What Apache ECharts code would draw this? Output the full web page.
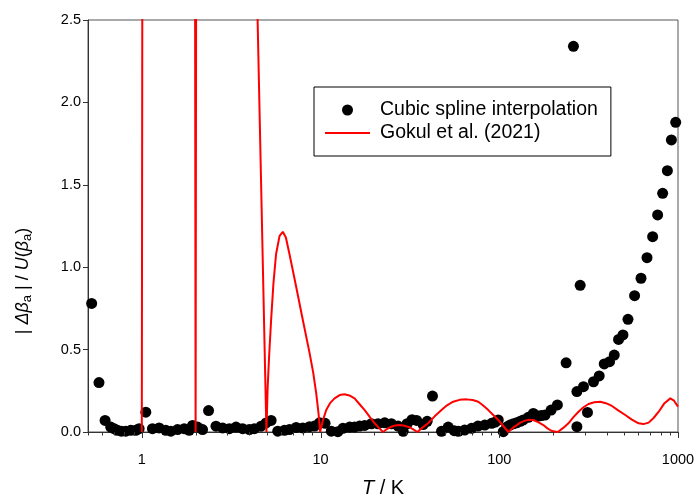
<!DOCTYPE html>
<html>
<head>
<meta charset="utf-8">
<script src="https://cdn.jsdelivr.net/npm/echarts@6/dist/echarts.min.js"></script>
<style>html,body{margin:0;padding:0;background:#fff;}#c{width:695px;height:499px;}</style>
</head>
<body>
<div id="c"></div>
<script>
// Cubic spline interpolation: temperature T / K and |Δβa|/U(βa)
const splineT = [0.524,0.576,0.623,0.670,0.699,0.730,0.768,0.813,0.868,0.925,0.966,
  1.053,1.147,1.25,1.363,1.454,1.584,1.727,1.842,1.922,2.05,2.187,
  2.363,2.6,2.831,3.087,3.367,3.666,3.998,4.265,4.65,4.96,5.291,
  5.761,6.283,6.702,7.306,7.958,8.675,9.255,9.87,10.6,
  11.48,12.5,13.34,14.55,15.51,16.55,17.66,19.25,20.96,22.86,24.92,27.14,
  29.0,30.5,32.5,34.5,37.5,39.5,42.3,
  47.5,51.8,56,59,64,70,76,83,90.7,95,98.7,
  105.3,110,114.8,120,125.2,131,136.3,145.4,155.1,165.5,172,180.4,195,211.5,236.6,
  260,271.8,271.8,283.6,295.9,311.5,336.7,362.4,386.6,414,439.9,465,492.1,525,571.6,620.9,670.9,721.4,769.3,820.7,872,918.4,970.7];
const splineV = [0.78,0.30,0.07,0.03,0.02,0.01,0.005,0.005,0.01,0.01,0.02,
  0.12,0.02,0.025,0.01,0.005,0.015,0.02,0.01,0.04,0.03,0.015,
  0.13,0.035,0.025,0.02,0.03,0.02,0.015,0.02,0.035,0.055,0.07,
  0.005,0.01,0.015,0.028,0.025,0.032,0.036,0.056,0.053,
  0.005,0.002,0.022,0.03,0.03,0.036,0.04,0.05,0.05,0.056,0.05,0.036,
  0.004,0.05,0.075,0.07,0.045,0.065,0.218,
  0.004,0.03,0.008,0.004,0.012,0.022,0.036,0.042,0.053,0.06,0.073,
  0.002,0.03,0.042,0.05,0.056,0.065,0.073,0.089,0.113,0.097,0.1,0.103,0.133,0.164,0.42,
  2.34,0.032,0.245,0.89,0.275,0.119,0.305,0.34,0.413,0.427,0.467,0.562,0.589,0.684,0.827,0.933,1.058,1.185,1.317,1.448,1.586,1.772,1.879];

// Gokul et al. (2021)
const gokulT = [1.0,1.01,1.5,1.98,2.0,2.02,3.0,4.2,
  4.98,5.06,5.15,5.29,5.45,5.64,5.9,6.15,6.4,6.7,7.0,7.31,7.96,8.68,9.1,9.46,9.75,9.95,
  10.3,10.76,11.3,11.98,12.8,13.6,14.5,15.5,16.5,17.66,18.8,20.09,21.2,22.4,
  23.5,24.9,26.2,27.7,29.5,31.6,33.2,34.8,
  37,40,43.5,47.5,51,55.2,60,65.6,71,76.3,81,86.8,92.5,98.7,105,112.3,
  118,125.2,132,139.4,147,155.1,165,176.5,186,196.8,212.6,
  228,243.8,260,277.5,296,315.6,340,367,395,427,465,507,552,602,640,685,730,780,840,906,950,1000];
const gokulV = [0,4,8,4,0,4,8,3.75,
  0,0.27,0.45,0.68,0.9,1.08,1.19,1.215,1.18,1.08,0.98,0.88,0.68,0.48,0.36,0.235,0.11,0,
  0.07,0.133,0.175,0.204,0.224,0.229,0.222,0.204,0.17,0.133,0.093,0.053,0.025,0,
  0.018,0.032,0.04,0.042,0.038,0.028,0.014,0,
  0.025,0.053,0.095,0.133,0.162,0.184,0.195,0.198,0.194,0.184,0.162,0.133,0.103,0.073,0.038,0,
  0.022,0.042,0.058,0.069,0.074,0.073,0.06,0.042,0.022,0.006,0,
  0.025,0.053,0.09,0.123,0.15,0.17,0.181,0.184,0.175,0.158,0.13,0.103,0.075,0.053,0.048,0.057,0.085,0.123,0.175,0.204,0.19,0.154];

const majorTicks = [1,10,100,1000];
const minorTicks = [0.5,0.6,0.7,0.8,0.9,2,3,4,5,6,7,8,9,20,30,40,50,60,70,80,90,200,300,400,500,600,700,800,900];

const FONT = '"Liberation Sans", Arial, sans-serif';
const chart = echarts.init(document.getElementById('c'), null, {renderer:'canvas'});
const tickData = majorTicks.map(v => [v, 0, 1]).concat(minorTicks.map(v => [v, 0, 0]));

chart.setOption({
  animation: false,
  backgroundColor: '#fff',
  textStyle: {fontFamily: FONT},
  grid: {left: 88, right: 17, top: 20, bottom: 67, containLabel: false, outerBoundsMode: 'none',
    show: true, borderColor: '#555', borderWidth: 1},
  legend: {
    data: [
      {name: 'Cubic spline interpolation', icon: 'circle'},
      {name: 'Gokul et al. (2021)', icon: 'path://M0,0 L45,0 L45,2 L0,2 Z'}
    ],
    orient: 'vertical', left: 314, top: 87,
    itemWidth: 45, itemHeight: 11, itemGap: 3,
    padding: [13, 13, 13, 11],
    borderColor: '#000', borderWidth: 1, backgroundColor: '#fff',
    textStyle: {fontFamily: FONT, fontSize: 19.5, color: '#000', padding: [0,0,0,5]}
  },
  xAxis: {
    type: 'log', logBase: 10, min: 0.5, max: 1000,
    axisLine: {show: true, lineStyle: {color: '#333', width: 1}},
    axisTick: {show: false},
    splitLine: {show: false},
    axisLabel: {
      margin: 20, fontSize: 14.5, color: '#000', fontFamily: FONT,
      formatter: function (v) {
        const l = Math.log10(v);
        return Math.abs(l - Math.round(l)) < 1e-6 ? String(Math.round(v)) : '';
      }
    },
    name: '{i|T} / K', nameLocation: 'middle', nameGap: 46,
    nameTextStyle: {fontSize: 20, color: '#000', fontFamily: FONT, rich: {i: {fontStyle: 'italic', fontSize: 20, fontFamily: FONT, color: '#000'}}}
  },
  yAxis: {
    type: 'value', min: 0, max: 2.5, interval: 0.5,
    axisLine: {show: true, lineStyle: {color: '#333', width: 1}},
    axisTick: {show: true, inside: false, length: 5, lineStyle: {color: '#333'}},
    splitLine: {show: false},
    axisLabel: {margin: 7, fontSize: 14.5, color: '#000', fontFamily: FONT, formatter: v => v.toFixed(1)}
  },
  graphic: [{
    type: 'text', x: 23, y: 281, rotation: Math.PI / 2,
    style: {
      text: '{n|| }{i|Δβ}{s|a}{n| | / }{i|U}{n|(}{i|β}{s|a}{n|)}',
      align: 'center', verticalAlign: 'middle',
      fontFamily: FONT, fontSize: 18, fill: '#000',
      rich: {
        n: {fontFamily: FONT, fontSize: 18, fill: '#000'},
        i: {fontFamily: FONT, fontSize: 18, fontStyle: 'italic', fill: '#000'},
        s: {fontFamily: FONT, fontSize: 13, fill: '#000', padding: [8, 0, 0, 0]}
      }
    }
  }],
  series: [
    {
      name: 'Cubic spline interpolation', type: 'scatter',
      data: splineT.map((t, i) => [t, splineV[i]]),
      symbol: 'circle', symbolSize: 11,
      itemStyle: {color: '#000', opacity: 1}, z: 2, clip: true
    },
    {
      name: 'Gokul et al. (2021)', type: 'line',
      data: gokulT.map((t, i) => [t, gokulV[i]]),
      symbol: 'none', showSymbol: false,
      lineStyle: {color: '#ff0000', width: 2}, itemStyle: {color: '#ff0000'},
      z: 3, clip: true
    },
    {
      type: 'custom', silent: true, z: 4,
      data: tickData,
      renderItem: function (params, api) {
        const p = api.coord([api.value(0), api.value(1)]);
        const len = api.value(2) ? 6 : 3.5;
        const x = Math.round(p[0]) + 0.5;
        return {type: 'line', shape: {x1: x, y1: p[1], x2: x, y2: p[1] + len}, style: {stroke: '#333', lineWidth: 1}};
      }
    }
  ]
});
</script>
</body>
</html>
